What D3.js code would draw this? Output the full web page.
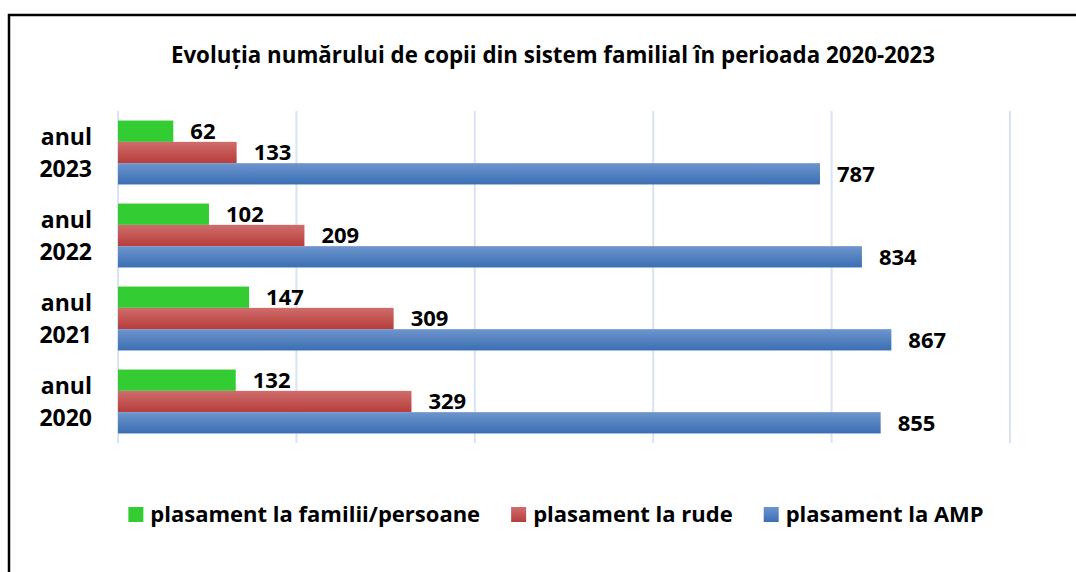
<!DOCTYPE html>
<html>
<head>
<meta charset="utf-8">
<script src="https://cdn.jsdelivr.net/npm/d3@7"></script>
<style>
  body { margin: 0; background: #fff; }
  svg { display: block; font-family: "Open Sans", Lato, sans-serif; }
</style>
</head>
<body>
<script>
// chart data
var years = ['2023', '2022', '2021', '2020'];
var series = ['plasament la familii/persoane', 'plasament la rude', 'plasament la AMP'];
var familii = [62, 102, 147, 132];
var rude = [133, 209, 309, 329];
var amp = [787, 834, 867, 855];
var ticks = [0, 200, 400, 600, 800, 1000];

var width = 1076;
var height = 572;

var svg = d3.select('body').append('svg')
  .attr('width', width)
  .attr('height', height);

// gradients like the excel fill
var defs = svg.append('defs');
var grads = [
  { id: 'gRed', top: '#cf6d6c', bottom: '#b73d3b' },
  { id: 'gBlue', top: '#6e95cd', bottom: '#3a6eb3' }
];
grads.forEach(function (g) {
  var lg = defs.append('linearGradient')
    .attr('id', g.id)
    .attr('x1', 0).attr('y1', 0).attr('x2', 0).attr('y2', 1);
  lg.append('stop').attr('offset', '0%').attr('stop-color', g.top);
  lg.append('stop').attr('offset', '100%').attr('stop-color', g.bottom);
});
var fills = ['#33cc33', 'url(#gRed)', 'url(#gBlue)'];

// outer frame
svg.append('rect')
  .attr('x', 9).attr('y', 15)
  .attr('width', 1200).attr('height', 700)
  .attr('fill', '#fff')
  .attr('stroke', '#000')
  .attr('stroke-width', 2.5);

svg.append('text')
  .attr('x', 553).attr('y', 63)
  .attr('text-anchor', 'middle')
  .attr('font-size', 22.3)
  .attr('font-weight', 'bold')
  .text('Evoluția numărului de copii din sistem familial în perioada 2020-2023');

var x = d3.scaleLinear().domain([0, 1000]).range([118, 1010]);
var y = d3.scaleBand().domain(years).range([111, 443])
  .paddingInner(0.23).paddingOuter(0.115);
var ys = d3.scaleBand().domain(d3.range(series.length)).range([0, y.bandwidth()]);

// gridlines
svg.append('g').selectAll('line').data(ticks)
  .enter()
  .append('line')
  .attr('x1', function (d) { return x(d); })
  .attr('x2', function (d) { return x(d); })
  .attr('y1', 111).attr('y2', 443)
  .attr('stroke', '#d9e3f2')
  .attr('stroke-width', 2);

// rows of data per year
var rows = years.map(function (yr, i) {
  return { year: yr, vals: [familii[i], rude[i], amp[i]] };
});

var groups = svg.append('g').selectAll('g').data(rows)
  .enter()
  .append('g')
  .attr('transform', function (d) { return 'translate(0,' + y(d.year) + ')'; });

groups.selectAll('rect')
  .data(function (d) { return d.vals; })
  .enter()
  .append('rect')
  .attr('x', x(0))
  .attr('y', function (d, i) { return ys(i); })
  .attr('width', function (d) { return x(d) - x(0); })
  .attr('height', ys.bandwidth())
  .attr('fill', function (d, i) { return fills[i]; });

groups.selectAll('text.val')
  .data(function (d) { return d.vals; })
  .enter()
  .append('text')
  .attr('class', 'val')
  .attr('x', function (d) { return x(d) + 17; })
  .attr('y', function (d, i) { return ys(i) + ys.bandwidth() / 2; })
  .attr('dy', '0.36em')
  .attr('font-size', 22)
  .attr('font-weight', 'bold')
  .text(function (d) { return d; });

// category labels, two lines
var cat = svg.append('g').selectAll('text').data(years)
  .enter()
  .append('text')
  .attr('text-anchor', 'end')
  .attr('font-size', 23)
  .attr('font-weight', 'bold')
  .attr('y', function (d) { return y(d) + y.bandwidth() / 2; });
cat.append('tspan').attr('x', 92).attr('dy', -7.5).text('anul');
cat.append('tspan').attr('x', 92).attr('dy', 32).text(function (d) { return d; });

// legend
var legend = svg.append('g');
var items = legend.selectAll('g').data(series)
  .enter()
  .append('g');
items.append('rect')
  .attr('y', 507)
  .attr('width', 15).attr('height', 15)
  .attr('fill', function (d, i) { return fills[i]; });
items.append('text')
  .attr('x', 22).attr('y', 522)
  .attr('font-size', 22)
  .attr('font-weight', 'bold')
  .text(function (d) { return d; });

var widths = [];
items.each(function () { widths.push(this.getBBox().width); });
var gap = 31;
var total = d3.sum(widths) + gap * (widths.length - 1);
var pos = 556 - total / 2;
items.attr('transform', function (d, i) {
  var t = 'translate(' + pos + ',0)';
  pos += widths[i] + gap;
  return t;
});
</script>
</body>
</html>
